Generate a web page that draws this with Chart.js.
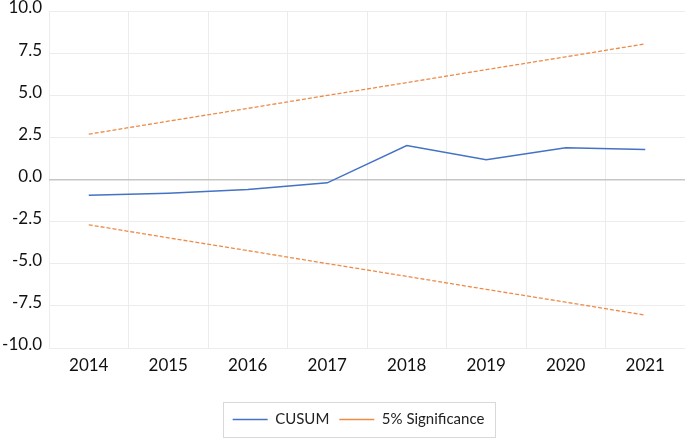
<!DOCTYPE html>
<html>
<head>
<meta charset="utf-8">
<script src="https://cdn.jsdelivr.net/npm/chart.js@4"></script>
<style>
  html, body { margin: 0; padding: 0; background: #fff; }
  #wrap { width: 685px; height: 438px; }
</style>
</head>
<body>
<div id="wrap"><canvas id="cusumChart"></canvas></div>
<script>
const years = ['2014', '2015', '2016', '2017', '2018', '2019', '2020', '2021'];
const cusum = [-0.94, -0.82, -0.6, -0.2, 2.02, 1.18, 1.88, 1.78];
const upperBound = [2.69, 3.46, 4.22, 4.99, 5.75, 6.52, 7.28, 8.05];
const lowerBound = [-2.69, -3.46, -4.22, -4.99, -5.75, -6.52, -7.28, -8.05];

const FONT = 'Lato, "Open Sans", sans-serif';

// legend sits a little right of centre in the original, with a thin box round it
const legendBorder = {
    id: 'legendBorder',
    afterLayout(chart) {
        chart.legend.left += 16;
        chart.legend.right += 16;
    },
    afterDraw(chart) {
        const boxes = chart.legend && chart.legend.legendHitBoxes;
        if (!boxes || !boxes.length) return;
        let left = Infinity, right = -Infinity, mid = 0;
        boxes.forEach(b => {
            left = Math.min(left, b.left);
            right = Math.max(right, b.left + b.width);
            mid = b.top + b.height / 2;
        });
        const ctx = chart.ctx;
        ctx.save();
        ctx.strokeStyle = '#d9d9d9';
        ctx.lineWidth = 1;
        ctx.strokeRect(Math.round(left - 10) + 0.5, Math.round(mid - 18) + 0.5,
            Math.round(right - left + 20), 35);
        ctx.restore();
    }
};

new Chart(document.getElementById('cusumChart'), {
    type: 'line',
    data: {
        labels: years,
        datasets: [{
            label: 'CUSUM',
            data: cusum,
            borderColor: '#4472C4',
            backgroundColor: '#4472C4',
            borderWidth: 1.5,
            pointRadius: 0,
            tension: 0,
            fill: false
        }, {
            label: '5% Significance',
            data: upperBound,
            borderColor: '#EE8A48',
            backgroundColor: '#EE8A48',
            borderWidth: 1.3,
            borderDash: [4, 2],
            pointRadius: 0,
            fill: false
        }, {
            label: 'lower',
            data: lowerBound,
            borderColor: '#EE8A48',
            backgroundColor: '#EE8A48',
            borderWidth: 1.3,
            borderDash: [4, 2],
            pointRadius: 0,
            fill: false
        }]
    },
    options: {
        responsive: true,
        maintainAspectRatio: false,
        animation: false,
        layout: { padding: { left: 0, right: 0, top: 0, bottom: 1 } },
        plugins: {
            tooltip: { enabled: false },
            legend: {
                position: 'bottom',
                labels: {
                    filter: item => item.datasetIndex !== 2,
                    usePointStyle: true,
                    pointStyle: 'line',
                    pointStyleWidth: 35,
                    boxHeight: 8,
                    padding: 10,
                    color: '#222',
                    font: { family: FONT, size: 15 }
                }
            }
        },
        scales: {
            x: {
                offset: true,
                grid: { offset: true, color: '#ececec', drawTicks: false },
                border: { display: false },
                afterFit: s => { s.height = 54; },
                ticks: {
                    color: '#111',
                    padding: 7,
                    font: { family: FONT, size: 17 }
                }
            },
            y: {
                min: -10,
                max: 10,
                grid: {
                    drawTicks: false,
                    color: ctx => ctx.tick.value === 0 ? '#c6c6c6' : '#ececec',
                    lineWidth: ctx => ctx.tick.value === 0 ? 1.5 : 1
                },
                border: { display: false },
                afterFit: s => { s.paddingTop = 11; s.width = 49; },
                ticks: {
                    stepSize: 2.5,
                    color: '#111',
                    padding: 7,
                    labelOffset: -3,
                    font: { family: FONT, size: 17 },
                    callback: v => v.toFixed(1)
                }
            }
        }
    },
    plugins: [legendBorder]
});
</script>
</body>
</html>
